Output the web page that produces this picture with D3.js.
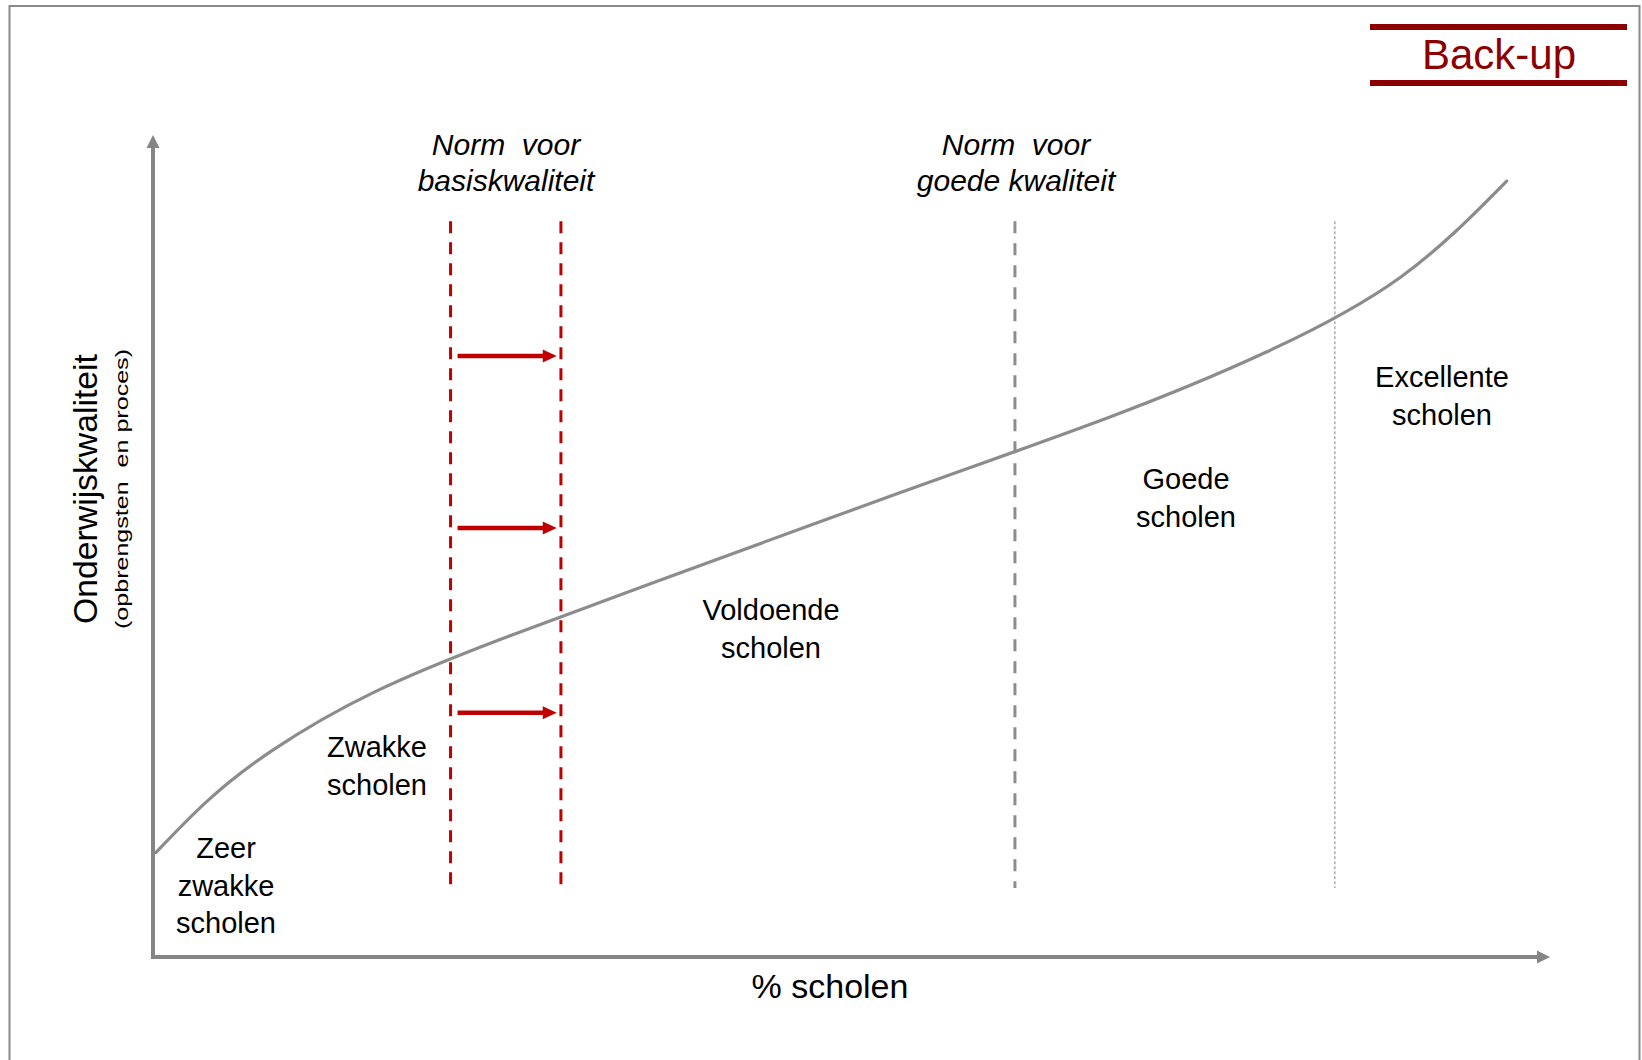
<!DOCTYPE html>
<html>
<head>
<meta charset="utf-8">
<script src="https://cdn.jsdelivr.net/npm/d3@7"></script>
<style>
  body { margin: 0; background: #fff; }
  text { font-family: "Liberation Sans", Arial, sans-serif; white-space: pre; }
</style>
</head>
<body>
<div class="svg-container"></div>
<script>
/* CONSTANTS AND GLOBALS */
const width = 1642,
    height = 1060;
const axisGrey = "#858585",
    curveGrey = "#8c8c8c",
    red = "#c00000",
    darkRed = "#8b0000";

/* DATA */
// quality curve: x = % scholen, y = onderwijskwaliteit (both 0-100)
const curveX = [0.2, 3.9, 8.6, 15.8, 24.8, 35.6, 53.5, 68.5, 79.7, 89.3, 96.9];
const curveY = [12.7, 19.0, 25.2, 32.2, 38.6, 45.4, 56.5, 65.7, 73.6, 82.7, 94.4];

// vertical norm lines
const normNames = ["basis oud", "basis nieuw", "goed", "excellent"];
const normX = [21.3, 29.2, 61.7, 84.6];
const normTop = 89.5, normBottom = 8.4;

// shift arrows (old norm -> new norm)
const shiftY = [73.1, 52.2, 29.7];
const shiftFrom = 21.8, shiftTo = 28.9;

// labels
const normLabels = [["Norm  voor", "basiskwaliteit"], ["Norm  voor", "goede kwaliteit"]];
const groupLabels = [
    ["Zeer", "zwakke", "scholen"],
    ["Zwakke", "scholen"],
    ["Voldoende", "scholen"],
    ["Goede", "scholen"],
    ["Excellente", "scholen"]
];
const xTitle = "% scholen";
const yTitle = "Onderwijskwaliteit";
const ySubTitle = "(opbrengsten  en proces)";
const badge = "Back-up";

let svg, xScale, yScale;

init();

function init() {
    xScale = d3.scaleLinear().domain([0, 100]).range([153, 1550]);
    yScale = d3.scaleLinear().domain([0, 100]).range([957, 135]);

    svg = d3.select(".svg-container")
        .append("svg")
        .attr("width", width)
        .attr("height", height)
        .attr("viewBox", `0 0 ${width} ${height}`);

    // slide frame
    svg.append("rect")
        .attr("x", 9.5).attr("y", 6)
        .attr("width", 1630).attr("height", 1080)
        .attr("fill", "none")
        .attr("stroke", "#8a8a8a")
        .attr("stroke-width", 2);

    // BACK-UP BADGE
    const bg = svg.append("g");
    [27, 83].forEach(y => {
        bg.append("line")
            .attr("x1", 1370).attr("x2", 1627)
            .attr("y1", y).attr("y2", y)
            .attr("stroke", darkRed)
            .attr("stroke-width", 6);
    });
    bg.append("text")
        .attr("x", 1499).attr("y", 69)
        .attr("text-anchor", "middle")
        .attr("font-size", 42)
        .attr("fill", darkRed)
        .text(badge);

    // AXES
    const x0 = xScale(0), y0 = yScale(0);
    const xEnd = xScale(100), yEnd = yScale(100);
    const head = 13, half = 6.5;

    svg.append("line")
        .attr("x1", x0 - 2).attr("x2", xEnd - head + 1)
        .attr("y1", y0).attr("y2", y0)
        .attr("stroke", axisGrey).attr("stroke-width", 4);
    svg.append("path")
        .attr("d", `M${xEnd},${y0}L${xEnd - head},${y0 - half}L${xEnd - head},${y0 + half}Z`)
        .attr("fill", axisGrey);

    svg.append("line")
        .attr("x1", x0).attr("x2", x0)
        .attr("y1", y0 + 2).attr("y2", yEnd + head - 1)
        .attr("stroke", axisGrey).attr("stroke-width", 4);
    svg.append("path")
        .attr("d", `M${x0},${yEnd}L${x0 - half},${yEnd + head}L${x0 + half},${yEnd + head}Z`)
        .attr("fill", axisGrey);

    // axis titles
    svg.append("text")
        .attr("x", 830).attr("y", 998)
        .attr("text-anchor", "middle")
        .attr("font-size", 34)
        .attr("fill", "#000")
        .text(xTitle);

    svg.append("text")
        .attr("transform", "translate(97,489) rotate(-90)")
        .attr("text-anchor", "middle")
        .attr("font-size", 34)
        .attr("textLength", 270)
        .attr("lengthAdjust", "spacingAndGlyphs")
        .text(yTitle);

    svg.append("text")
        .attr("transform", "translate(128,489) rotate(-90)")
        .attr("text-anchor", "middle")
        .attr("font-size", 19)
        .attr("textLength", 280)
        .attr("lengthAdjust", "spacingAndGlyphs")
        .text(ySubTitle);

    // NORM LINES
    const normStyle = [
        { stroke: red, w: 3, dash: "12,9" },
        { stroke: red, w: 3, dash: "12,9" },
        { stroke: "#8c8c8c", w: 3, dash: "12,10" },
        { stroke: "#9a9a9a", w: 1.2, dash: "3,2" }
    ];
    svg.selectAll(".norm")
        .data(normX)
        .join("line")
        .attr("class", "norm")
        .attr("x1", d => xScale(d)).attr("x2", d => xScale(d))
        .attr("y1", yScale(normTop)).attr("y2", yScale(normBottom))
        .attr("stroke", (d, i) => normStyle[i].stroke)
        .attr("stroke-width", (d, i) => normStyle[i].w)
        .attr("stroke-dasharray", (d, i) => normStyle[i].dash);

    // CURVE
    const pts = curveX.map((x, i) => [x, curveY[i]]);
    const line = d3.line()
        .x(d => xScale(d[0]))
        .y(d => yScale(d[1]))
        .curve(d3.curveNatural);
    svg.append("path")
        .datum(pts)
        .attr("d", line)
        .attr("fill", "none")
        .attr("stroke", curveGrey)
        .attr("stroke-width", 3.2)
        .attr("stroke-linecap", "round");

    // SHIFT ARROWS
    const ax1 = xScale(shiftFrom), ax2 = xScale(shiftTo);
    const ag = svg.selectAll(".shift")
        .data(shiftY)
        .join("g")
        .attr("class", "shift")
        .attr("transform", d => `translate(0,${yScale(d)})`);
    ag.append("line")
        .attr("x1", ax1).attr("x2", ax2 - 12)
        .attr("y1", 0).attr("y2", 0)
        .attr("stroke", red).attr("stroke-width", 4.5);
    ag.append("path")
        .attr("d", `M${ax2},0L${ax2 - 14},-6.5L${ax2 - 14},6.5Z`)
        .attr("fill", red);

    // NORM LABELS
    const normLabelPos = [[506, 155], [1016, 155]];
    normLabels.forEach((lines, i) => {
        const t = svg.append("text")
            .attr("text-anchor", "middle")
            .attr("font-size", 30)
            .attr("font-style", "italic")
            .attr("fill", "#000");
        lines.forEach((s, j) => {
            t.append("tspan")
                .attr("x", normLabelPos[i][0])
                .attr("y", normLabelPos[i][1] + j * 36)
                .text(s);
        });
    });

    // GROUP LABELS
    const groupPos = [[226, 858], [377, 757], [771, 620], [1186, 489], [1442, 387]];
    groupLabels.forEach((lines, i) => {
        const t = svg.append("text")
            .attr("text-anchor", "middle")
            .attr("font-size", 29)
            .attr("fill", "#000");
        lines.forEach((s, j) => {
            t.append("tspan")
                .attr("x", groupPos[i][0])
                .attr("y", groupPos[i][1] + j * 37.5)
                .text(s);
        });
    });
}
</script>
</body>
</html>
